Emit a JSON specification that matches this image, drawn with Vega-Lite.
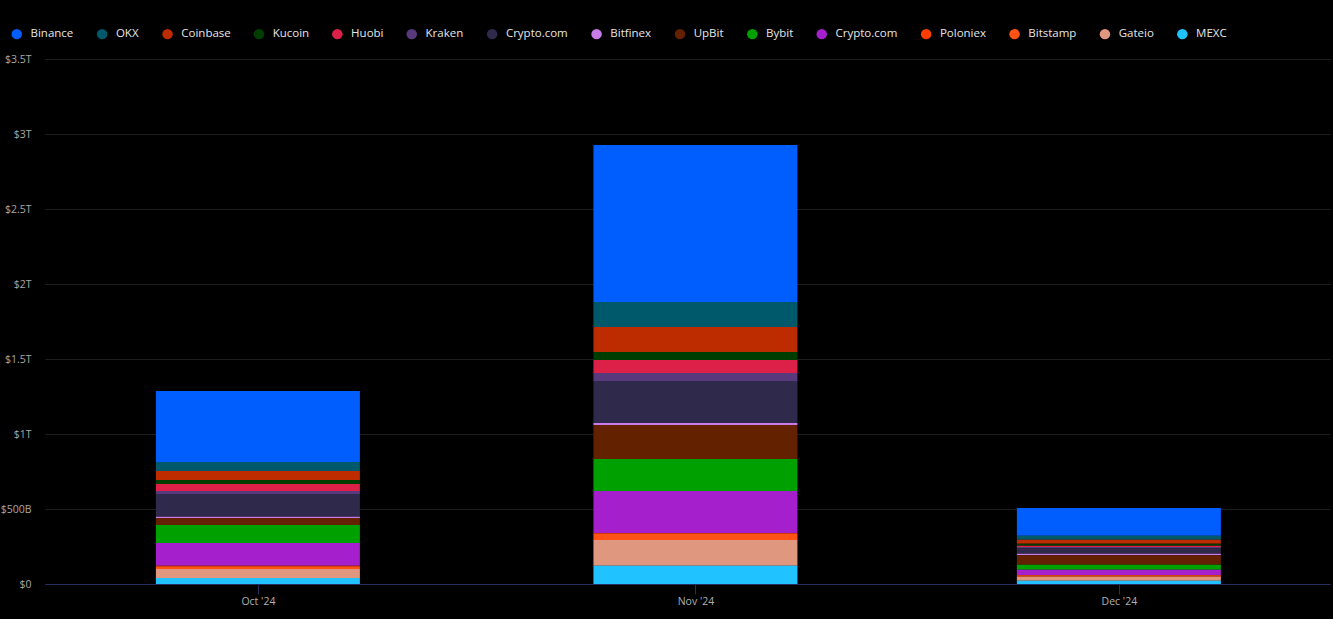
{
  "$schema": "https://vega.github.io/schema/vega-lite/v6.json",
  "autosize": {"type": "none"},
  "padding": {"left": 45, "top": 59, "right": 3, "bottom": 35},
  "width": 1285,
  "height": 525,
  "background": "#000000",
  "config": {
    "view": {"stroke": null},
    "font": "Open Sans"
  },
  "datasets": {
    "volumes": [
      {"month": "2024-10-01", "exchange": "Binance", "volume": 473},
      {"month": "2024-10-01", "exchange": "OKX", "volume": 60},
      {"month": "2024-10-01", "exchange": "Coinbase", "volume": 60},
      {"month": "2024-10-01", "exchange": "Kucoin", "volume": 27},
      {"month": "2024-10-01", "exchange": "Huobi", "volume": 47},
      {"month": "2024-10-01", "exchange": "Kraken", "volume": 20},
      {"month": "2024-10-01", "exchange": "Crypto.com", "volume": 151},
      {"month": "2024-10-01", "exchange": "Bitfinex", "volume": 9},
      {"month": "2024-10-01", "exchange": "UpBit", "volume": 47},
      {"month": "2024-10-01", "exchange": "Bybit", "volume": 120},
      {"month": "2024-10-01", "exchange": "Crypto.com 2", "volume": 151},
      {"month": "2024-10-01", "exchange": "Poloniex", "volume": 3},
      {"month": "2024-10-01", "exchange": "Bitstamp", "volume": 19},
      {"month": "2024-10-01", "exchange": "Gateio", "volume": 60},
      {"month": "2024-10-01", "exchange": "MEXC", "volume": 40},
      {"month": "2024-11-01", "exchange": "Binance", "volume": 1047},
      {"month": "2024-11-01", "exchange": "OKX", "volume": 167},
      {"month": "2024-11-01", "exchange": "Coinbase", "volume": 167},
      {"month": "2024-11-01", "exchange": "Kucoin", "volume": 53},
      {"month": "2024-11-01", "exchange": "Huobi", "volume": 87},
      {"month": "2024-11-01", "exchange": "Kraken", "volume": 53},
      {"month": "2024-11-01", "exchange": "Crypto.com", "volume": 280},
      {"month": "2024-11-01", "exchange": "Bitfinex", "volume": 13},
      {"month": "2024-11-01", "exchange": "UpBit", "volume": 227},
      {"month": "2024-11-01", "exchange": "Bybit", "volume": 213},
      {"month": "2024-11-01", "exchange": "Crypto.com 2", "volume": 280},
      {"month": "2024-11-01", "exchange": "Poloniex", "volume": 5},
      {"month": "2024-11-01", "exchange": "Bitstamp", "volume": 42},
      {"month": "2024-11-01", "exchange": "Gateio", "volume": 171},
      {"month": "2024-11-01", "exchange": "MEXC", "volume": 122},
      {"month": "2024-12-01", "exchange": "Binance", "volume": 184},
      {"month": "2024-12-01", "exchange": "OKX", "volume": 27},
      {"month": "2024-12-01", "exchange": "Coinbase", "volume": 27},
      {"month": "2024-12-01", "exchange": "Kucoin", "volume": 13},
      {"month": "2024-12-01", "exchange": "Huobi", "volume": 9},
      {"month": "2024-12-01", "exchange": "Kraken", "volume": 9},
      {"month": "2024-12-01", "exchange": "Crypto.com", "volume": 36},
      {"month": "2024-12-01", "exchange": "Bitfinex", "volume": 9},
      {"month": "2024-12-01", "exchange": "UpBit", "volume": 64},
      {"month": "2024-12-01", "exchange": "Bybit", "volume": 33},
      {"month": "2024-12-01", "exchange": "Crypto.com 2", "volume": 35},
      {"month": "2024-12-01", "exchange": "Poloniex", "volume": 1},
      {"month": "2024-12-01", "exchange": "Bitstamp", "volume": 10},
      {"month": "2024-12-01", "exchange": "Gateio", "volume": 27},
      {"month": "2024-12-01", "exchange": "MEXC", "volume": 22}
    ],
    "exchanges": [
      {"exchange": "Binance", "legendIndex": 1},
      {"exchange": "OKX", "legendIndex": 2},
      {"exchange": "Coinbase", "legendIndex": 3},
      {"exchange": "Kucoin", "legendIndex": 4},
      {"exchange": "Huobi", "legendIndex": 5},
      {"exchange": "Kraken", "legendIndex": 6},
      {"exchange": "Crypto.com", "legendIndex": 7},
      {"exchange": "Bitfinex", "legendIndex": 8},
      {"exchange": "UpBit", "legendIndex": 9},
      {"exchange": "Bybit", "legendIndex": 10},
      {"exchange": "Crypto.com 2", "legendIndex": 11},
      {"exchange": "Poloniex", "legendIndex": 12},
      {"exchange": "Bitstamp", "legendIndex": 13},
      {"exchange": "Gateio", "legendIndex": 14},
      {"exchange": "MEXC", "legendIndex": 15}
    ]
  },
  "data": {"name": "volumes"},
  "transform": [
    {
      "lookup": "exchange",
      "from": {"data": {"name": "exchanges"}, "key": "exchange", "fields": ["legendIndex"]}
    }
  ],
  "mark": {"type": "bar", "size": 204, "stroke": null},
  "encoding": {
    "x": {
      "field": "month",
      "type": "temporal",
      "scale": {
        "type": "utc",
        "nice": false,
        "padding": 0,
        "domain": [1726437600000, 1734303600000]
      },
      "axis": {
        "title": null,
        "values": [1727740800000, 1730419200000, 1733011200000],
        "labelExpr": "utcFormat(datum.value, '%b \\'%y')",
        "grid": false,
        "domainColor": "#26305e",
        "domainWidth": 1,
        "tickColor": "#26305e",
        "tickSize": 10,
        "labelColor": "#b0b0b0",
        "labelFontSize": 10.5,
        "labelPadding": 2,
        "labelFlush": false
      }
    },
    "y": {
      "field": "volume",
      "type": "quantitative",
      "stack": "zero",
      "scale": {"domain": [0, 3500], "nice": false},
      "axis": {
        "title": null,
        "values": [0, 500, 1000, 1500, 2000, 2500, 3000, 3500],
        "labelExpr": "datum.value == 0 ? '$0' : (datum.value < 1000 ? '$' + datum.value + 'B' : '$' + (datum.value / 1000) + 'T')",
        "domain": false,
        "ticks": false,
        "gridColor": "#1e1e1e",
        "gridWidth": 1,
        "labelColor": "#a8a8a8",
        "labelFontSize": 10.5,
        "labelPadding": 14
      }
    },
    "order": {"field": "legendIndex", "type": "quantitative", "sort": "descending"},
    "color": {
      "field": "exchange",
      "type": "nominal",
      "scale": {
        "domain": ["Binance", "OKX", "Coinbase", "Kucoin", "Huobi", "Kraken", "Crypto.com", "Bitfinex", "UpBit", "Bybit", "Crypto.com 2", "Poloniex", "Bitstamp", "Gateio", "MEXC"],
        "range": ["#005eff", "#00586b", "#bd2b00", "#003d00", "#dc2048", "#583a7c", "#2f2a4c", "#c77ce8", "#632100", "#00a000", "#a51fcc", "#ff3d00", "#ff5214", "#e0977f", "#20c3ff"]
      },
      "legend": {
        "title": null,
        "orient": "none",
        "direction": "horizontal",
        "legendX": -34,
        "legendY": -31,
        "symbolType": "circle",
        "symbolSize": 110,
        "symbolStrokeWidth": 0,
        "labelColor": "#e6e6e6",
        "labelFontSize": 11.5,
        "labelOffset": 8,
        "columnPadding": 22.4,
        "labelExpr": "datum.label == 'Crypto.com 2' ? 'Crypto.com' : datum.label"
      }
    }
  }
}
